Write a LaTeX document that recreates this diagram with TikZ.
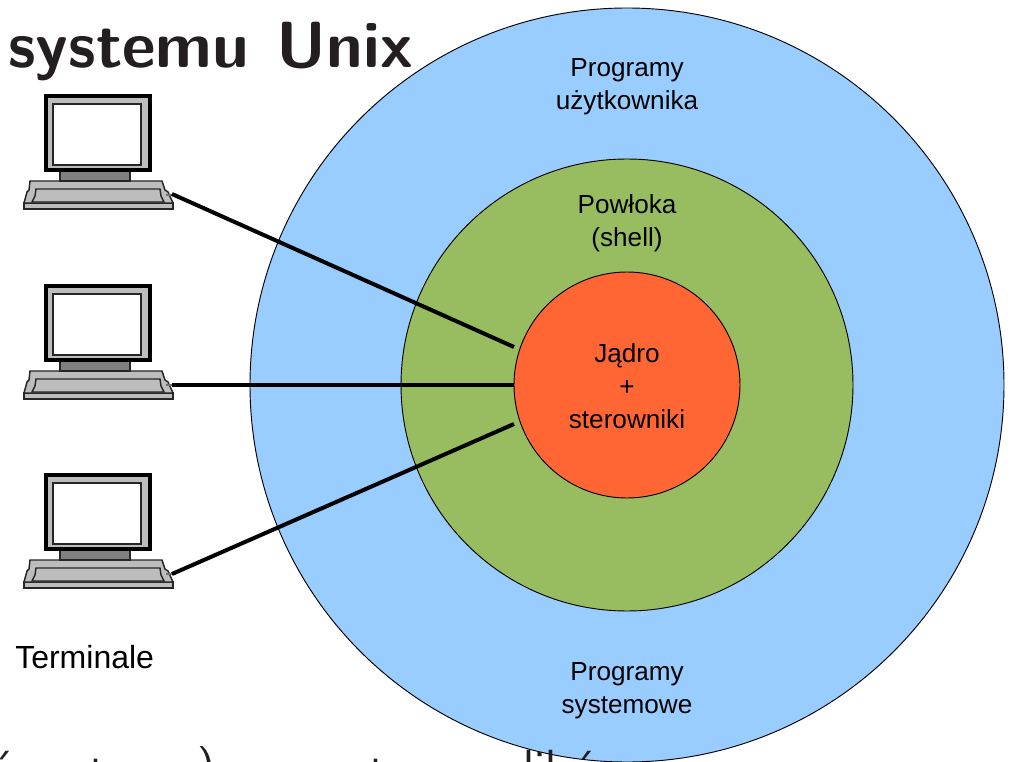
\documentclass[tikz,border=0pt]{standalone}
\usepackage{fontspec}
\setmainfont{Liberation Sans}
\setsansfont{Latin Modern Sans}
\definecolor{cblue}{HTML}{99CCFF}
\definecolor{cgreen}{HTML}{97BD60}
\definecolor{corange}{HTML}{FF6633}
\definecolor{inkdark}{HTML}{231F20}
\definecolor{tgray}{HTML}{BDBDBD}
\definecolor{tstand}{HTML}{808080}
\definecolor{tline}{HTML}{262626}
\tikzset{
  ring/.style={circle,draw=black,line width=0.7pt,inner sep=0pt,outer sep=0pt},
  lab/.style={align=center,font=\fontsize{19.6}{24.75}\selectfont,inner sep=0pt},
  wire/.style={line width=3pt,black},
  title/.style={anchor=base west,inner sep=0pt,text=inkdark,font=\sffamily\bfseries\fontsize{49}{49}\selectfont},
  frag/.style={inner sep=0pt,text=inkdark,font=\sffamily\fontsize{37}{37}\selectfont,anchor=base},
  casing/.style={draw=black,line width=2.4pt,fill=tgray},
  screen/.style={draw=tline,line width=1.6pt,fill=white},
  stand/.style={draw=tline,line width=1.6pt,fill=tstand},
  kbd/.style={draw=tline,line width=1.1pt,fill=tgray},
}
\begin{document}
\begin{tikzpicture}[x=0.75pt,y=-0.75pt]
\useasboundingbox (0,0) rectangle (1013,762);
\fill[white] (0,0) rectangle (1013,762);
\begin{scope}
\clip (0,0) rectangle (1013,762);
\node[ring,fill=cblue,minimum size=565.5pt] (user) at (627,385) {};
\node[ring,fill=cgreen,minimum size=339pt] (shell) at (627,385) {};
\node[ring,fill=corange,minimum size=169.5pt] (kern) at (627,385) {};
\node[frag] (f1) at (3,785) {\'o};
\node[frag] (f2) at (98,786) {t};
\node[frag] (f3) at (207,783) {)};
\node[frag] (f4) at (378,786) {t};
\node[frag] (f5) at (539.5,784) {lil};
\node[frag] (f6) at (585,785) {\'o};
\end{scope}
\node[title] (head) at (8,68) {systemu\hspace{0.06em} Unix};
\foreach \i/\d in {1/0,2/190,3/379}{
\begin{scope}[yshift=-0.75*\d pt]
  \draw[tline,line width=1.1pt,fill=tgray] (24,203) rectangle (173,209);
  \draw[kbd] (30,181) -- (162,181) -- (165,190) -- (168,192) -- (173,203) -- (24,203) -- (27,192) -- (29,190) -- cycle;
  \draw[tline,line width=1.1pt] (36,189) -- (160,189) -- (161,196) -- (164,202) -- (32,202) -- (35,196) -- cycle;
  \draw[stand] (60,170) rectangle (130,181);
  \draw[casing] (46,96) rectangle (150,170);
  \draw[screen] (53,104) rectangle (141,165);
  \draw[tgray!60!black,line width=1.1pt] (166,195) -- (176,195);
\end{scope}
}
\coordinate (t1) at (172,194);
\coordinate (t2) at (172,385);
\coordinate (t3) at (172,574);
\coordinate (k1) at (514,347);
\coordinate (k3) at (514,424);
\draw[wire] (t1) -- (k1);
\draw[wire] (t2) -- (kern.west);
\draw[wire] (t3) -- (k3);
\node[lab] (l1) at (627,86.5) {Programy\\użytkownika};
\node[lab] (l2) at (627,223) {Powłoka\\(shell)};
\node[lab] (l3) at (627,386) {Jądro\\+\\sterowniki};
\node[lab] (l4) at (627,690.5) {Programy\\systemowe};
\node[lab,anchor=west,font=\fontsize{24}{28}\selectfont] (l5) at (15,657) {Terminale};
\end{tikzpicture}
\end{document}
